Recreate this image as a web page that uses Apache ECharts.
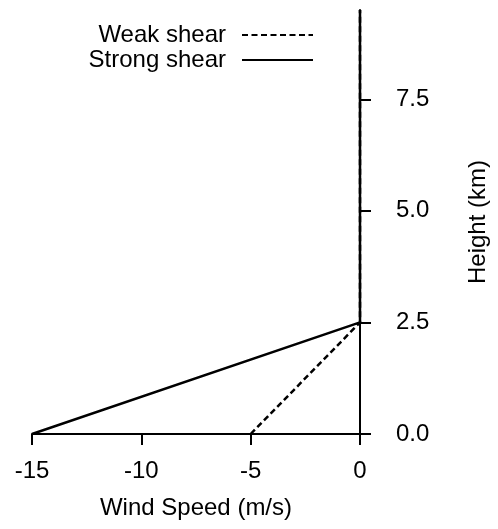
<!DOCTYPE html>
<html>
<head>
<meta charset="utf-8">
<script src="https://cdn.jsdelivr.net/npm/echarts@6/dist/echarts.min.js"></script>
<style>
  html, body { margin: 0; padding: 0; background: #fff; }
  #chart { width: 498px; height: 529px; }
</style>
</head>
<body>
<div id="chart"></div>
<script>
// Wind profiles: speed (m/s) at each height level (km)
const heights = [0, 2.5, 9.5];
const weakShear = [-5, 0, 0];
const strongShear = [-15, 0, 0];
const seriesNames = ['Weak shear', 'Strong shear'];
const xTicks = [-15, -10, -5, 0];
const yTicks = [0, 2.5, 5, 7.5];

const FONT = 'Liberation Sans, Arial, Helvetica, sans-serif';
const pairs = (xs) => xs.map((x, i) => [x, heights[i]]);

const chart = echarts.init(document.getElementById('chart'), null, { renderer: 'canvas' });
chart.setOption({
  animation: false,
  backgroundColor: '#ffffff',
  textStyle: { fontFamily: FONT, color: '#000' },
  grid: { left: 32, right: 134, top: 10, bottom: 95 },
  legend: {
    orient: 'vertical',
    align: 'right',
    right: 179,
    top: 18,
    itemWidth: 71,
    itemHeight: 14,
    itemGap: 1,
    data: seriesNames,
    itemStyle: { opacity: 0 },
    textStyle: { fontFamily: FONT, fontSize: 24, lineHeight: 24, color: '#000', padding: [0, 11, 0, 0] }
  },
  xAxis: {
    type: 'value',
    min: xTicks[0],
    max: xTicks[xTicks.length - 1],
    interval: 5,
    name: 'Wind Speed (m/s)',
    nameLocation: 'middle',
    nameGap: 62,
    nameTextStyle: { fontFamily: FONT, fontSize: 24, color: '#000' },
    axisLine: { show: true, onZero: false, lineStyle: { color: '#000', width: 2 } },
    axisTick: { show: true, length: 11, lineStyle: { color: '#000', width: 2 } },
    axisLabel: { margin: 25, fontFamily: FONT, fontSize: 24, color: '#000' },
    splitLine: { show: false }
  },
  yAxis: {
    type: 'value',
    position: 'right',
    min: 0,
    max: heights[heights.length - 1],
    name: 'Height (km)',
    nameLocation: 'middle',
    nameRotate: 90,
    nameGap: 106,
    nameTextStyle: { fontFamily: FONT, fontSize: 24, color: '#000' },
    axisLine: { show: true, onZero: false, lineStyle: { color: '#000', width: 2 } },
    axisTick: { show: true, length: 11, customValues: yTicks, lineStyle: { color: '#000', width: 2 } },
    axisLabel: {
      margin: 36,
      customValues: yTicks,
      fontFamily: FONT, fontSize: 24, color: '#000',
      formatter: (v) => Number(v).toFixed(1)
    },
    splitLine: { show: false }
  },
  series: [
    {
      name: seriesNames[0],
      type: 'line',
      symbol: 'none',
      data: pairs(weakShear),
      lineStyle: { color: '#000', width: 2.5, type: [6, 3.5] },
      itemStyle: { color: '#000' }
    },
    {
      name: seriesNames[1],
      type: 'line',
      symbol: 'none',
      data: pairs(strongShear),
      lineStyle: { color: '#000', width: 2.5, type: 'solid' },
      itemStyle: { color: '#000' }
    }
  ]
});
</script>
</body>
</html>
